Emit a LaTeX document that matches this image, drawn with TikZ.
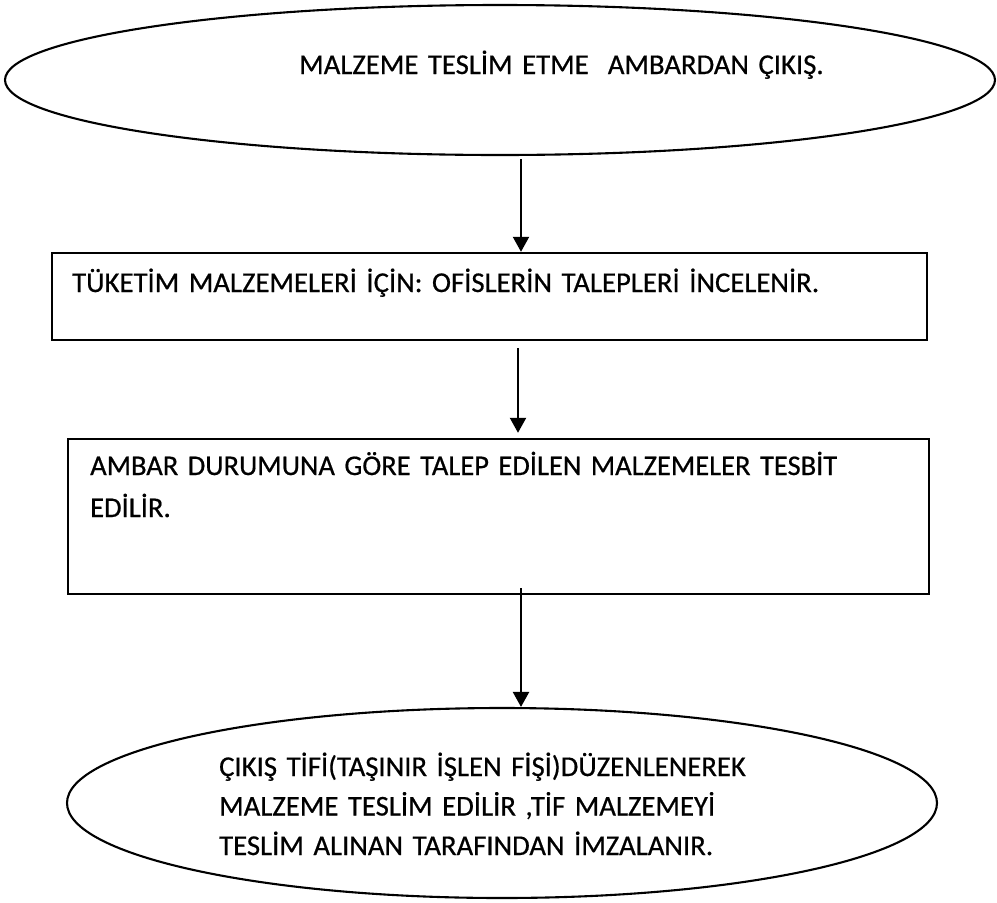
\documentclass[tikz,border=0pt]{standalone}
\usepackage{fontspec}
\setmainfont[FakeBold=0.6]{Carlito}
\usetikzlibrary{shapes.geometric,arrows.meta}
\tikzset{
  oval/.style={draw=black, line width=2.1pt, ellipse, inner sep=0pt},
  stepbox/.style={draw=black, line width=2.4pt, rectangle, inner sep=0pt},
  txt/.style={inner sep=0pt, anchor=base west, align=left, text width=#1},
  txt/.default=800pt,
  arr/.style={line width=2.2pt, -{Triangle[length=15pt,width=16pt]}}
}
\begin{document}
\begin{tikzpicture}[x=1pt,y=-1pt]
\useasboundingbox (0,0) rectangle (997,903);
% shapes
\node[oval, minimum width=990pt, minimum height=150pt] (top) at (500,80) {};
\node[stepbox, minimum width=875pt, minimum height=87pt] (box1) at (489.5,296.5) {};
\node[stepbox, minimum width=861pt, minimum height=155pt] (box2) at (498.5,516.5) {};
\node[oval, minimum width=870pt, minimum height=190pt] (bot) at (502,803) {};
% texts
\node[txt=700pt, font=\fontsize{28.7}{40}\selectfont] (t0) at (299,74) {MALZEME TESLİM ETME\ \ AMBARDAN ÇIKIŞ.};
\node[txt=840pt, font=\fontsize{28.7}{40}\selectfont] (t1) at (72,292) {TÜKETİM MALZEMELERİ İÇİN: OFİSLERİN TALEPLERİ İNCELENİR.};
\node[txt=830pt, font=\fontsize{28.5}{42}\selectfont] (t2) at (90,475) {AMBAR DURUMUNA GÖRE TALEP EDİLEN MALZEMELER TESBİT\\EDİLİR.};
\node[txt=600pt, font=\fontsize{28.7}{39.5}\selectfont] (t3) at (219,776) {ÇIKIŞ TİFİ(TAŞINIR İŞLEN FİŞİ)DÜZENLENEREK\\MALZEME TESLİM EDİLİR ,TİF MALZEMEYİ\\TESLİM ALINAN TARAFINDAN İMZALANIR.};
% connectors
\coordinate (c1) at (521,0);
\coordinate (c2) at (518,0);
\coordinate (c3) at (521,0);
\draw[arr, shorten <=3pt] (top.south -| c1) -- (box1.north -| c1);
\draw[arr, shorten <=7pt, shorten >=5pt] (box1.south -| c2) -- (box2.north -| c2);
\draw[arr, shorten <=-7pt] (box2.south -| c3) -- (bot.north -| c3);
\end{tikzpicture}
\end{document}
